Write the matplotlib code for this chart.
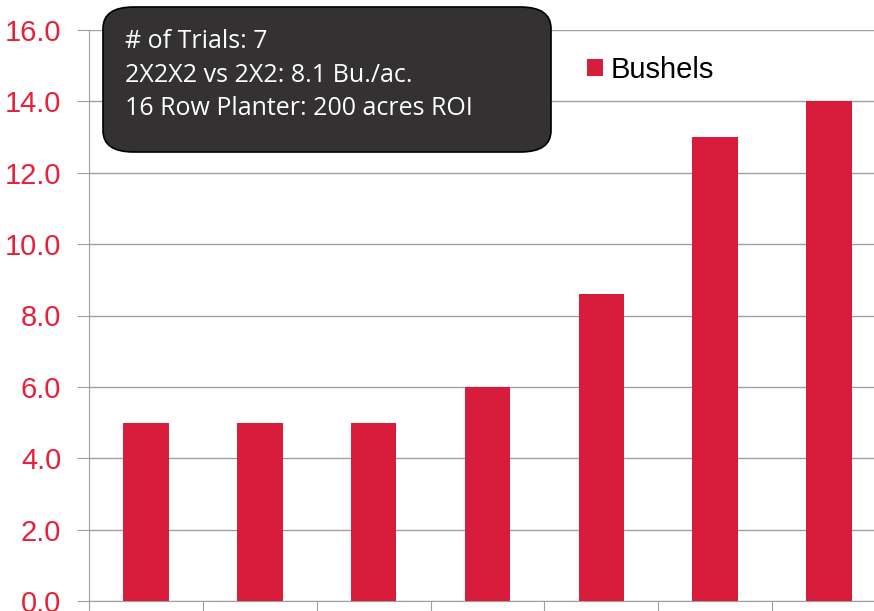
import matplotlib.pyplot as plt
from matplotlib.patches import FancyBboxPatch

# data
categories = ['1', '2', '3', '4', '5', '6', '7']
bushels = [5.0, 5.0, 5.0, 6.0, 8.6, 13.0, 14.0]
y_ticks = [0, 2, 4, 6, 8, 10, 12, 14, 16]
box_lines = ['# of Trials: 7', '2X2X2 vs 2X2: 8.1 Bu./ac.', '16 Row Planter: 200 acres ROI']

bar_color = '#D71C3C'
label_color = '#E8203A'
grid_color = '#A0A0A0'

fig = plt.figure(figsize=(8.74, 6.11), dpi=100)
ax = fig.add_axes([89 / 874, 10 / 611, (886 - 89) / 874, (601 - 30) / 611])

x = list(range(len(categories)))
ax.bar(x, bushels, width=0.4, color=bar_color, label='Bushels', zorder=3)

ax.set_xlim(-0.5, len(categories) - 0.5)
ax.set_ylim(0, 16)
ax.set_yticks(y_ticks)
ax.set_yticklabels([f'{v:.1f}' for v in y_ticks], fontfamily='Liberation Sans',
                   fontsize=21, color=label_color)
ax.set_xticks([i - 0.5 for i in range(len(categories) + 1)])
ax.set_xticklabels([])
ax.tick_params(axis='y', length=9, color=grid_color, pad=11)
ax.tick_params(axis='x', length=9, color=grid_color)
ax.yaxis.grid(True, color=grid_color, linewidth=1, zorder=0)
ax.set_axisbelow(True)
for s in ['top', 'right']:
    ax.spines[s].set_visible(False)
for s in ['left', 'bottom']:
    ax.spines[s].set_color(grid_color)

leg = ax.legend(loc='center left', bbox_to_anchor=((587 - 89) / 797, (601 - 70) / 571),
                frameon=False, prop={'family': 'Liberation Sans', 'size': 21},
                handlelength=0.55, handleheight=0.55, handletextpad=0.25,
                borderpad=0, borderaxespad=0)

# dark rounded info box
box = FancyBboxPatch((103 / 874, 1 - 152 / 611), (551 - 103) / 874, (152 - 7) / 611,
                     boxstyle='round,pad=0,rounding_size=0.035',
                     transform=fig.transFigure, facecolor='#333132',
                     edgecolor='black', linewidth=1.2, zorder=5)
fig.patches.append(box)
fig.text(125 / 874, 1 - 29 / 611, '\n'.join(box_lines), color='white',
         fontfamily='Open Sans', fontsize=18, va='top', ha='left',
         linespacing=1.45, zorder=6)

fig.savefig('out.png', dpi=100)
